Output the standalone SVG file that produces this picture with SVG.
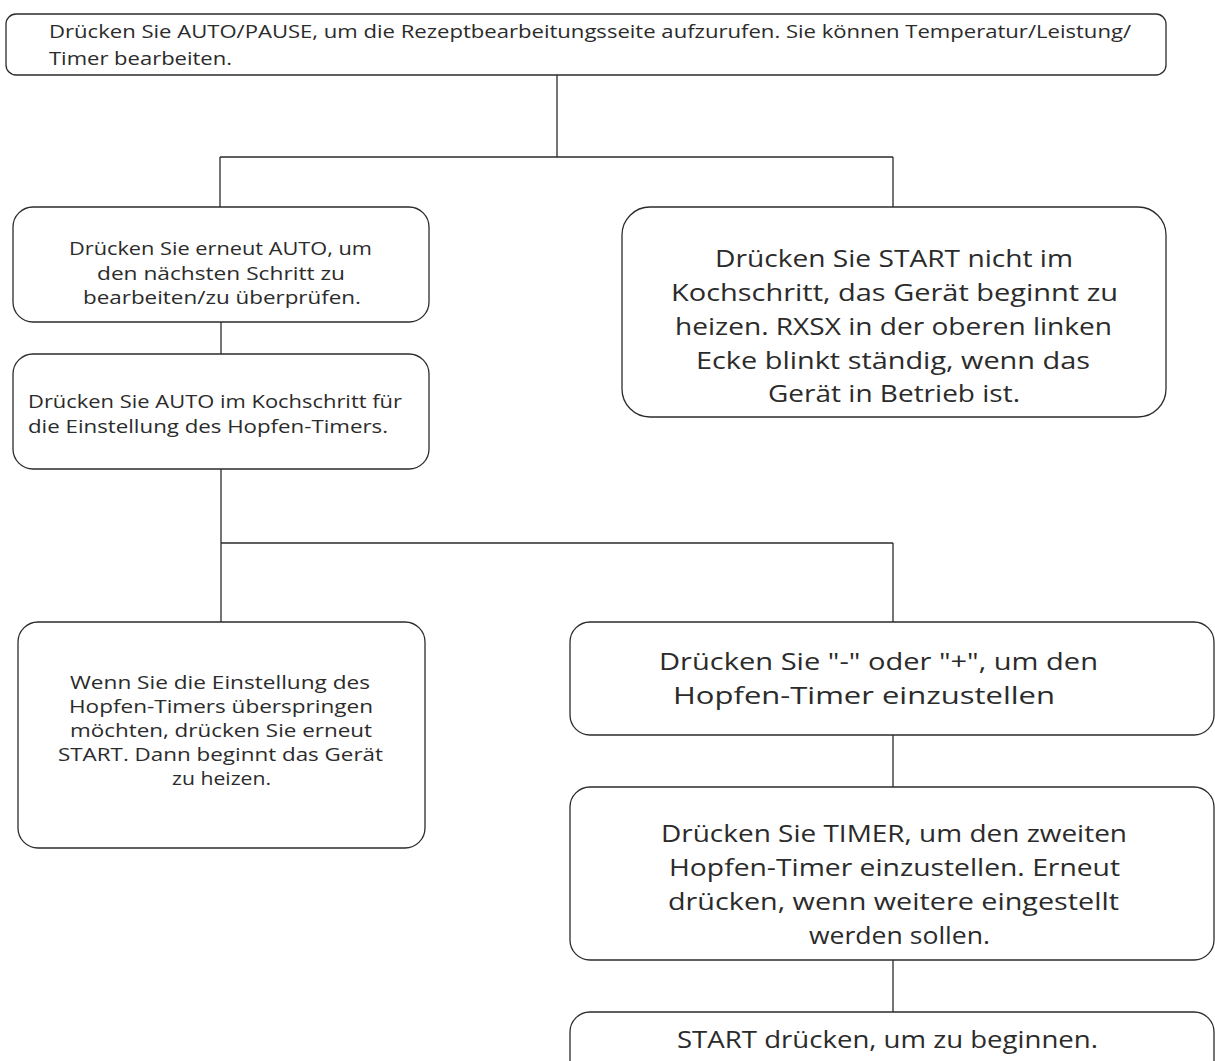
<svg xmlns="http://www.w3.org/2000/svg" width="1215" height="1061" viewBox="0 0 1215 1061">
<style>
.box{fill:#fff;stroke:#2b2b2b;stroke-width:1.3}
.t{font-family:"Open Sans","Liberation Sans",sans-serif;fill:#2b2b2b}
.s18{font-size:18px}
.s17{font-size:17.5px}
.s24{font-size:24px}
.c{fill:none;stroke:#2b2b2b;stroke-width:1.3}
</style>
<rect width="1215" height="1061" fill="#fff"/>
<g id="connectors">
<path class="c" d="M557,75 V157 M220,157 H893 M220,157 V207 M893,157 V207"/>
<path class="c" d="M221,322 V354"/>
<path class="c" d="M221,469 V543 H893 M221,543 V622 M893,543 V622"/>
<path class="c" d="M893,735 V787 M893,960 V1012"/>
</g>
<g id="n1">
<rect class="box" x="6" y="14" width="1160" height="61" rx="10"/>
<text class="t s18" x="49" y="38" textLength="1082" lengthAdjust="spacingAndGlyphs">Drücken Sie AUTO/PAUSE, um die Rezeptbearbeitungsseite aufzurufen. Sie können Temperatur/Leistung/</text>
<text class="t s18" x="49" y="65" textLength="183" lengthAdjust="spacingAndGlyphs">Timer bearbeiten.</text>
</g>
<g id="n2">
<rect class="box" x="13" y="207" width="416" height="115" rx="20"/>
<text class="t s17" x="69" y="255" textLength="303" lengthAdjust="spacingAndGlyphs">Drücken Sie erneut AUTO, um</text>
<text class="t s17" x="97" y="280" textLength="248" lengthAdjust="spacingAndGlyphs">den nächsten Schritt zu</text>
<text class="t s17" x="83" y="304" textLength="278" lengthAdjust="spacingAndGlyphs">bearbeiten/zu überprüfen.</text>
</g>
<g id="n3">
<rect class="box" x="13" y="354" width="416" height="115" rx="20"/>
<text class="t s17" x="28" y="408" textLength="374" lengthAdjust="spacingAndGlyphs">Drücken Sie AUTO im Kochschritt für</text>
<text class="t s17" x="28" y="433" textLength="360" lengthAdjust="spacingAndGlyphs">die Einstellung des Hopfen-Timers.</text>
</g>
<g id="n4">
<rect class="box" x="622" y="207" width="544" height="210" rx="28"/>
<text class="t s24" x="715" y="267" textLength="358" lengthAdjust="spacingAndGlyphs">Drücken Sie START nicht im</text>
<text class="t s24" x="671" y="301" textLength="447" lengthAdjust="spacingAndGlyphs">Kochschritt, das Gerät beginnt zu</text>
<text class="t s24" x="675" y="335" textLength="437" lengthAdjust="spacingAndGlyphs">heizen. RXSX in der oberen linken</text>
<text class="t s24" x="696" y="369" textLength="394" lengthAdjust="spacingAndGlyphs">Ecke blinkt ständig, wenn das</text>
<text class="t s24" x="768" y="402" textLength="252" lengthAdjust="spacingAndGlyphs">Gerät in Betrieb ist.</text>
</g>
<g id="n5">
<rect class="box" x="18" y="622" width="407" height="226" rx="20"/>
<text class="t s17" x="70" y="689" textLength="300" lengthAdjust="spacingAndGlyphs">Wenn Sie die Einstellung des</text>
<text class="t s17" x="69" y="713" textLength="304" lengthAdjust="spacingAndGlyphs">Hopfen-Timers überspringen</text>
<text class="t s17" x="70" y="737" textLength="302" lengthAdjust="spacingAndGlyphs">möchten, drücken Sie erneut</text>
<text class="t s17" x="58" y="761" textLength="325" lengthAdjust="spacingAndGlyphs">START. Dann beginnt das Gerät</text>
<text class="t s17" x="172" y="785" textLength="99" lengthAdjust="spacingAndGlyphs">zu heizen.</text>
</g>
<g id="n6">
<rect class="box" x="570" y="622" width="644" height="113" rx="20"/>
<text class="t s24" x="659" y="670" textLength="439" lengthAdjust="spacingAndGlyphs">Drücken Sie "-" oder "+", um den</text>
<text class="t s24" x="673" y="704" textLength="382" lengthAdjust="spacingAndGlyphs">Hopfen-Timer einzustellen</text>
</g>
<g id="n7">
<rect class="box" x="570" y="787" width="644" height="173" rx="20"/>
<text class="t s24" x="661" y="842" textLength="466" lengthAdjust="spacingAndGlyphs">Drücken Sie TIMER, um den zweiten</text>
<text class="t s24" x="669" y="876" textLength="451" lengthAdjust="spacingAndGlyphs">Hopfen-Timer einzustellen. Erneut</text>
<text class="t s24" x="668" y="910" textLength="451" lengthAdjust="spacingAndGlyphs">drücken, wenn weitere eingestellt</text>
<text class="t s24" x="809" y="944" textLength="181" lengthAdjust="spacingAndGlyphs">werden sollen.</text>
</g>
<g id="n8">
<rect class="box" x="570" y="1012" width="644" height="80" rx="20"/>
<text class="t s24" x="677" y="1048" textLength="421" lengthAdjust="spacingAndGlyphs">START drücken, um zu beginnen.</text>
</g>
</svg>
